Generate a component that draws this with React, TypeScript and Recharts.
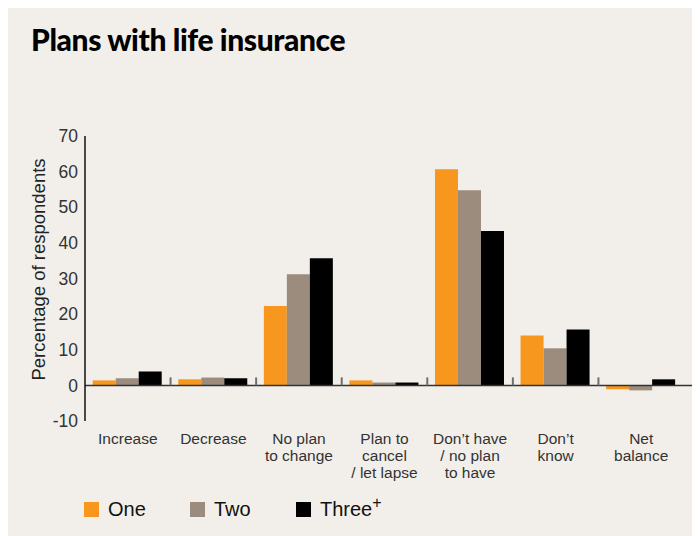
import React from "react";
import {
  BarChart,
  Bar,
  XAxis,
  YAxis,
  ReferenceLine,
  Legend,
} from "recharts";

const categories = [
  "Increase",
  "Decrease",
  "No plan\nto change",
  "Plan to\ncancel\n/ let lapse",
  "Don’t have\n/ no plan\nto have",
  "Don’t\nknow",
  "Net\nbalance",
];
const one = [1.4, 1.7, 22.3, 1.4, 60.7, 14.0, -1.1];
const two = [2.0, 2.2, 31.2, 0.8, 54.8, 10.4, -1.4];
const threePlus = [3.9, 2.0, 35.7, 0.8, 43.3, 15.7, 1.7];
const yTicks = [-10, 0, 10, 20, 30, 40, 50, 60, 70];

const series = [
  { key: "one", name: "One", color: "#f7971e" },
  { key: "two", name: "Two", color: "#9b8c7e" },
  { key: "three", name: "Three", color: "#000000" },
];

const data = categories.map((c, i) => ({
  cat: c,
  one: one[i],
  two: two[i],
  three: threePlus[i],
}));

// layout
const W = 692;
const H = 531;
const M_TOP = 131;
const M_BOTTOM = 2;
const LEGEND_H = 36;
const XAXIS_H = 77;
const PLOT_H = H - M_TOP - M_BOTTOM - LEGEND_H - XAXIS_H;
const Y_MIN = -10;
const Y_MAX = 70;
const ZERO_Y = M_TOP + (PLOT_H * Y_MAX) / (Y_MAX - Y_MIN);

const FONT = "'Liberation Sans', Arial, Helvetica, sans-serif";

function CatTick(props: any) {
  const { x, y, payload, index } = props;
  const lines = String(payload.value).split("\n");
  const off = payload.offset ?? 0;
  return (
    <g>
      {index > 0 && (
        <line
          x1={x - off}
          x2={x - off}
          y1={ZERO_Y - 8}
          y2={ZERO_Y}
          stroke="#6f6f6f"
          strokeWidth={2}
        />
      )}
      {index === categories.length - 1 && (
        <line
          x1={x + off + 11}
          x2={x + off + 11}
          y1={ZERO_Y - 2}
          y2={ZERO_Y}
          stroke="#999"
          strokeWidth={1}
        />
      )}
      <text
        x={x}
        y={y + 15}
        textAnchor="middle"
        fontFamily={FONT}
        fontSize={15.5}
        fill="#333"
      >
        {lines.map((l, i) => (
          <tspan key={i} x={x} dy={i === 0 ? 0 : 17}>
            {l}
          </tspan>
        ))}
      </text>
    </g>
  );
}

function LegendContent() {
  return (
    <div
      style={{
        display: "flex",
        paddingLeft: 76,
        paddingTop: 0,
        fontFamily: FONT,
      }}
    >
      {series.map((s) => (
        <div
          key={s.key}
          style={{ display: "flex", alignItems: "center", width: 106 }}
        >
          <span
            style={{
              display: "inline-block",
              width: 15,
              height: 15,
              background: s.color,
              marginRight: 9,
            }}
          />
          <span style={{ fontSize: 20, color: "#111" }}>
            {s.name}
            {s.key === "three" && (
              <sup style={{ fontSize: 16, lineHeight: 0 }}>+</sup>
            )}
          </span>
        </div>
      ))}
    </div>
  );
}

export default function App() {
  return (
    <div
      style={{
        position: "relative",
        width: W,
        height: H,
        marginTop: -3,
        background: "#f2efea",
      }}
    >
      <div
        style={{
          position: "absolute",
          left: 23,
          top: 16,
          fontFamily: "Lato, sans-serif",
          fontWeight: 900,
          fontSize: 30,
          color: "#000",
          letterSpacing: -0.4,
        }}
      >
        Plans with life insurance
      </div>
      <BarChart
        width={W}
        height={H}
        data={data}
        margin={{ top: M_TOP, right: 5, bottom: M_BOTTOM, left: 0 }}
        barCategoryGap="9%"
        barGap={0}
      >
        <XAxis
          dataKey="cat"
          height={XAXIS_H}
          axisLine={false}
          tickLine={false}
          interval={0}
          padding={{ left: 0, right: 11 }}
          tick={<CatTick />}
        />
        <YAxis
          width={77}
          domain={[Y_MIN, Y_MAX]}
          ticks={yTicks}
          interval={0}
          tickLine={false}
          axisLine={{ stroke: "#111", strokeWidth: 1.5 }}
          tick={{ fontFamily: FONT, fontSize: 17.5, fill: "#333" }}
          tickMargin={1}
          label={{
            value: "Percentage of respondents",
            angle: -90,
            position: "insideLeft",
            dx: 25,
            dy: -9,
            style: {
              fontFamily: FONT,
              fontSize: 18.5,
              fill: "#222",
              textAnchor: "middle",
            },
          }}
        />
        <ReferenceLine y={0} stroke="#333" strokeWidth={1.5} />
        {series.map((s) => (
          <Bar
            key={s.key}
            dataKey={s.key}
            name={s.name}
            fill={s.color}
            isAnimationActive={false}
          />
        ))}
        <Legend
          verticalAlign="bottom"
          height={LEGEND_H}
          content={<LegendContent />}
        />
      </BarChart>
    </div>
  );
}
